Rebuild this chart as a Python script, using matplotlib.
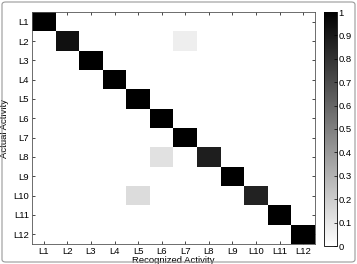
import numpy as np
import matplotlib
matplotlib.use("Agg")
import matplotlib.pyplot as plt
from matplotlib.patches import FancyBboxPatch

plt.rcParams['font.family'] = ['Liberation Sans', 'DejaVu Sans']

labels = ["L1", "L2", "L3", "L4", "L5", "L6", "L7", "L8", "L9", "L10", "L11", "L12"]
diag = [1.0, 0.93, 1.0, 1.0, 1.0, 1.0, 1.0, 0.88, 1.0, 0.86, 1.0, 1.0]
# (actual row, recognized column, value) for the off-diagonal confusions
off_rows = [1, 7, 9]
off_cols = [6, 5, 4]
off_vals = [0.07, 0.12, 0.14]

cm = np.diag(diag)
for r, c, v in zip(off_rows, off_cols, off_vals):
    cm[r, c] = v

fig = plt.figure(figsize=(3.57, 2.64), dpi=100)
ax = fig.add_axes([32/357, 20/264, 283/357, 232/264])
cax = fig.add_axes([324/357, 18/264, 13/357, 234/264])

im = ax.imshow(cm, cmap="gray_r", vmin=0, vmax=1, aspect="auto", interpolation="nearest")
n = len(labels)
ax.set_xticks(range(n))
ax.set_yticks(range(n))
ax.set_xticklabels(labels, fontsize=6.8)
ax.set_yticklabels(labels, fontsize=6.8)
ax.tick_params(direction="in", length=2.5, width=0.5, top=True, right=True, pad=2)
ax.set_xlabel("Recognized Activity", fontsize=6.8, labelpad=0)
ax.set_ylabel("Actual Activity", fontsize=6.8, labelpad=3)
for s in ax.spines.values():
    s.set_linewidth(0.6)
    s.set_color("#555555")

cb = fig.colorbar(im, cax=cax, ticks=np.arange(0, 1.01, 0.1))
cb.ax.set_yticklabels(["0", "0.1", "0.2", "0.3", "0.4", "0.5", "0.6", "0.7", "0.8", "0.9", "1"])
cb.ax.tick_params(direction="in", length=2.5, width=0.5, labelsize=6.8, pad=1)
cb.outline.set_linewidth(0.6)

border = FancyBboxPatch((2/357, 2/264), 353/357, 260/264, boxstyle="round,pad=0,rounding_size=0.01",
                        transform=fig.transFigure, fill=False, edgecolor="#999999", linewidth=0.8)
fig.patches.append(border)

fig.savefig("out.png", dpi=100)
